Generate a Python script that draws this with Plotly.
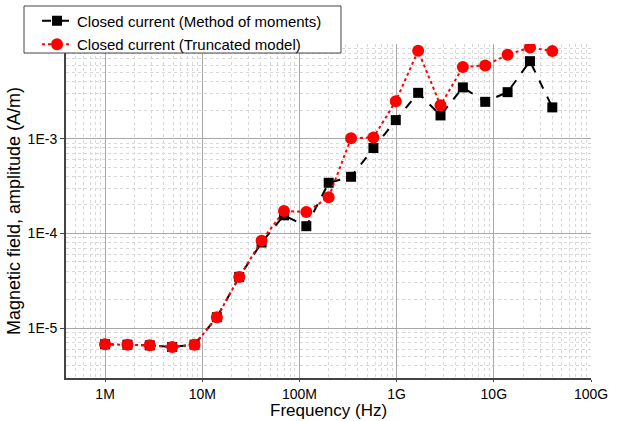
import plotly.graph_objects as go

freq_hz = [1.0e6, 1.699e6, 2.885e6, 4.901e6, 8.325e6, 1.414e7, 2.402e7, 4.080e7,
           6.931e7, 1.177e8, 2.0e8, 3.397e8, 5.771e8, 9.802e8, 1.665e9, 2.828e9,
           4.804e9, 8.160e9, 1.386e10, 2.354e10, 4.0e10]

mom_values = [6.73e-6, 6.67e-6, 6.56e-6, 6.3e-6, 6.67e-6, 1.30e-5, 3.46e-5, 8.0e-5,
              1.55e-4, 1.19e-4, 3.42e-4, 3.96e-4, 7.96e-4, 1.57e-3, 3.05e-3, 1.76e-3,
              3.48e-3, 2.45e-3, 3.10e-3, 6.59e-3, 2.14e-3]

trunc_values = [6.73e-6, 6.67e-6, 6.56e-6, 6.3e-6, 6.67e-6, 1.30e-5, 3.46e-5, 8.36e-5,
                1.72e-4, 1.68e-4, 2.41e-4, 1.01e-3, 1.03e-3, 2.49e-3, 8.47e-3, 2.25e-3,
                5.70e-3, 5.94e-3, 7.69e-3, 9.2e-3, 8.41e-3]

x_tickvals = [1e6, 1e7, 1e8, 1e9, 1e10, 1e11]
x_ticktext = ["1M", "10M", "100M", "1G", "10G", "100G"]
y_tickvals = [1e-5, 1e-4, 1e-3, 1e-2]
y_ticktext = ["1E-5", "1E-4", "1E-3", ""]

x_minor = [m * 10 ** e for e in range(5, 11) for m in range(2, 10)]
y_minor = [m * 10 ** e for e in range(-6, -2) for m in range(2, 10)]

FONT = "Liberation Sans, Arial, sans-serif"

fig = go.Figure()
fig.add_trace(go.Scatter(
    x=freq_hz, y=mom_values, mode="lines+markers",
    name="Closed current (Method of moments)", legendgroup="a",
    line=dict(color="black", width=2, dash="dash"),
    marker=dict(symbol="square", size=10, color="black"),
))
fig.add_trace(go.Scatter(
    x=freq_hz, y=trunc_values, mode="lines+markers",
    name="Closed current (Truncated model)", legendgroup="b",
    line=dict(color="#ff0000", width=2, dash="dot"),
    marker=dict(symbol="circle", size=12, color="#ff0000"),
))

# legend frame (drawn as a paper-referenced box behind the legend entries)
fig.add_shape(type="rect", xref="paper", yref="paper",
              x0=-0.08, x1=0.5238, y0=0.973, y1=1.1138,
              fillcolor="white", line=dict(color="#444", width=1), layer="above")

# x-axis title as an annotation anchored to the bottom edge
fig.add_annotation(text="Frequency (Hz)", xref="paper", yref="paper",
                   x=0.5, y=-0.1287, xanchor="center", yanchor="bottom",
                   borderpad=0, showarrow=False,
                   font=dict(size=17, family=FONT, color="black"))

fig.update_layout(
    width=622, height=421,
    margin=dict(l=66, r=31, t=44, b=43, autoexpand=False),
    paper_bgcolor="white", plot_bgcolor="white",
    font=dict(family=FONT, color="black"),
    showlegend=True,
    legend=dict(
        x=-0.0552, y=1.118, xanchor="left", yanchor="top",
        bgcolor="rgba(0,0,0,0)", borderwidth=0,
        font=dict(size=15, family=FONT, color="black"),
        tracegroupgap=1, itemwidth=30,
    ),
)

fig.update_xaxes(
    type="log", range=[5.598, 11.0],
    tickmode="array", tickvals=x_tickvals, ticktext=x_ticktext,
    tickfont=dict(size=14, family=FONT),
    ticks="outside", ticklen=2, tickcolor="#444",
    showline=True, linecolor="#444", linewidth=2,
    showgrid=True, gridcolor="#a8a8a8", gridwidth=1,
    minor=dict(tickmode="array", tickvals=x_minor, showgrid=True,
               gridcolor="#d8d8d8", griddash="dot", gridwidth=1, ticks=""),
    zeroline=False, automargin=False,
)
fig.update_yaxes(
    type="log", range=[-5.528, -2.0],
    tickmode="array", tickvals=y_tickvals, ticktext=y_ticktext,
    tickfont=dict(size=14, family=FONT),
    ticks="outside", ticklen=4, tickcolor="#444",
    showline=True, linecolor="#444", linewidth=2,
    showgrid=True, gridcolor="#a8a8a8", gridwidth=1,
    minor=dict(tickmode="array", tickvals=y_minor, showgrid=True,
               gridcolor="#d8d8d8", griddash="dot", gridwidth=1, ticks=""),
    zeroline=False, automargin=False,
    title=dict(text="Magnetic field, amplitude (A/m)", font=dict(size=18, family=FONT), standoff=2),
)

fig.write_html("out.html")
